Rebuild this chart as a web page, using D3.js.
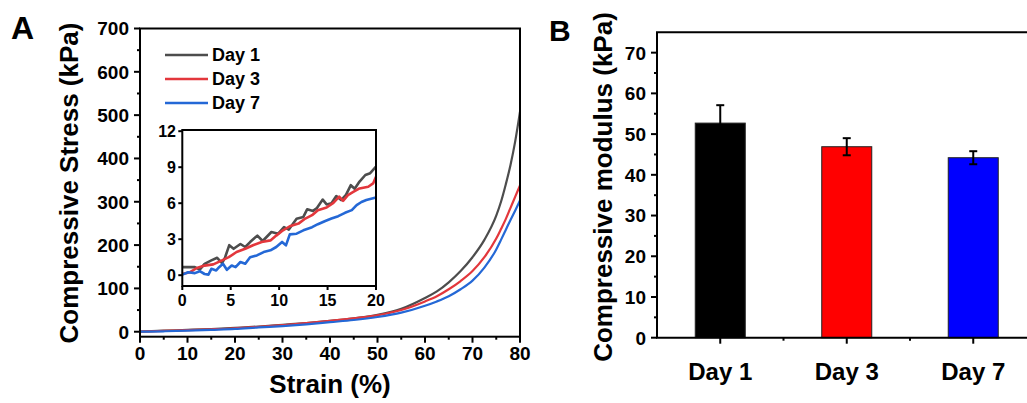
<!DOCTYPE html>
<html>
<head>
<meta charset="utf-8">
<script src="https://cdn.jsdelivr.net/npm/d3@7"></script>
<style>
    body { margin: 0; background: #fff; }
    text { font-family: 'Liberation Sans', Arial, sans-serif; font-weight: bold; fill: #000; }
</style>
</head>
<body>
<div id="chart"></div>
<script>
const chart_width = 1027;
const chart_height = 403;

// ---- panel A data: stress-strain curves ----
const strain = [0, 5, 10, 15, 20, 25, 30, 35, 40, 45, 50, 55, 60, 62.5, 65, 67.5, 70, 72.5, 75, 76, 77, 78, 79, 80];
const stress_day1 = [0, 2.4, 4.2, 6.3, 9, 12, 16, 20, 25, 31, 39, 53, 78, 93, 114, 140, 172, 212, 268, 300, 340, 385, 440, 508];
const stress_day3 = [0.2, 2, 3.6, 5.6, 8, 11.5, 15, 20, 25, 31, 38, 50, 70, 82, 98, 117, 140, 172, 215, 237, 260, 286, 312, 338];
const stress_day7 = [0.2, 1, 2.4, 4.4, 6.5, 10, 13, 17, 22, 27, 34, 44, 60, 70, 82, 98, 118, 148, 190, 212, 235, 258, 280, 303];

// inset (0-20 % strain)
const inset_day1_x = [0, 1.3, 1.8, 2.3, 3.0, 3.6, 4.1, 4.4, 4.85, 5.3, 6, 6.5, 7, 7.75, 8.3, 9.2, 9.9, 10.5, 11, 11.8, 12.5, 12.9, 13.5, 13.9, 14.5, 14.9, 15.4, 15.9, 16.4, 16.9, 17.4, 17.8, 18.3, 18.9, 19.4, 20];
const inset_day1_y = [0.67, 0.67, 0.47, 0.95, 1.23, 1.45, 1.0, 1.45, 2.5, 2.2, 2.6, 2.35, 2.76, 3.3, 2.85, 3.6, 3.46, 4.0, 3.8, 4.7, 4.86, 5.5, 5.36, 5.6, 6.3, 5.9, 6.0, 6.6, 6.26, 6.7, 7.5, 7.2, 7.8, 8.35, 8.5, 9.05];
const inset_day3_x = [0, 0.8, 1.5, 2.3, 3.2, 4.1, 4.8, 5.6, 6.5, 7.3, 8.2, 9.1, 9.7, 10.4, 11.1, 12, 12.7, 13.4, 14, 14.9, 15.6, 16.2, 16.6, 17.1, 17.7, 18.3, 19.2, 19.7, 20];
const inset_day3_y = [0.1, 0.25, 0.6, 0.8, 0.9, 1.23, 1.5, 1.93, 2.2, 2.5, 2.77, 2.9, 3.3, 3.74, 4.08, 4.3, 4.72, 5.0, 5.42, 5.64, 6.03, 6.54, 6.2, 6.68, 6.96, 7.23, 7.37, 7.65, 8.2];
const inset_day7_x = [0, 0.6, 1.3, 1.8, 2.3, 2.7, 3, 3.5, 3.8, 4.2, 4.6, 5.1, 5.5, 6, 6.5, 7, 7.7, 8.4, 9.1, 9.7, 10.3, 10.7, 11.1, 11.8, 12.5, 13.4, 14, 14.7, 15.4, 16.1, 16.8, 17.5, 18, 18.5, 19, 20];
const inset_day7_y = [0.05, 0.25, 0.17, 0.33, 0.1, 0.05, 0.53, 0.4, 0.67, 0.95, 0.45, 0.81, 0.67, 1.1, 0.95, 1.5, 1.65, 1.93, 2.07, 2.35, 2.77, 2.49, 3.4, 3.46, 3.74, 4.0, 4.25, 4.5, 4.72, 4.92, 5.2, 5.42, 5.84, 6.1, 6.26, 6.48];

const series_names = ['Day 1', 'Day 3', 'Day 7'];
const line_colors = ['#4d4d4d', '#e3373c', '#2468d6'];

// ---- panel B data: compressive modulus ----
const modulus = [52.7, 46.9, 44.2];
const modulus_err = [4.4, 2.1, 1.6];
const bar_colors = ['#000000', '#ff0000', '#0000ff'];

const y_ticks_a = [0, 100, 200, 300, 400, 500, 600, 700];
const x_ticks_a = [0, 10, 20, 30, 40, 50, 60, 70, 80];
const inset_x_ticks = [0, 5, 10, 15, 20];
const inset_y_ticks = [0, 3, 6, 9, 12];
const y_ticks_b = [0, 10, 20, 30, 40, 50, 60, 70];

//--------------------------------------------------------------------
const svg = d3.select('#chart')
    .append('svg')
    .attr('width', chart_width)
    .attr('height', chart_height);

// small helper: draw ticks + labels by hand so they match the Origin style
function draw_ticks(g, values, pos, opts) {
    values.forEach(v => {
        const p = pos(v);
        if (opts.orient === 'left') {
            g.append('line').attr('x1', opts.at - opts.len).attr('x2', opts.at)
                .attr('y1', p).attr('y2', p).attr('stroke', '#000').attr('stroke-width', 2);
        } else {
            g.append('line').attr('y1', opts.at).attr('y2', opts.at + opts.len)
                .attr('x1', p).attr('x2', p).attr('stroke', '#000').attr('stroke-width', 2);
        }
    });
}

//--------------------------------------------------------------------
// Panel A
const x_a = d3.scaleLinear().domain([0, 80]).range([140, 520]);
const y_a = d3.scaleLinear().domain([-11.5, 700]).range([336.7, 28.5]);

const g_a = svg.append('g');

const line_a = d3.line()
    .x(d => x_a(d[0]))
    .y(d => y_a(d[1]))
    .curve(d3.curveMonotoneX);

[stress_day1, stress_day3, stress_day7].forEach((arr, i) => {
    g_a.append('path')
        .datum(strain.map((s, j) => [s, arr[j]]))
        .attr('d', line_a)
        .attr('fill', 'none')
        .attr('stroke', line_colors[i])
        .attr('stroke-width', 2.2);
});

// frame
g_a.append('rect')
    .attr('x', x_a(0)).attr('y', y_a(700))
    .attr('width', x_a(80) - x_a(0))
    .attr('height', y_a(-11.5) - y_a(700))
    .attr('fill', 'none').attr('stroke', '#000').attr('stroke-width', 2);

// y axis
draw_ticks(g_a, y_ticks_a, y_a, { orient: 'left', at: x_a(0), len: 6 });
draw_ticks(g_a, d3.range(50, 700, 100), y_a, { orient: 'left', at: x_a(0), len: 3 });
g_a.selectAll('.ylab')
    .data(y_ticks_a)
    .enter()
    .append('text')
    .attr('x', 129)
    .attr('y', d => y_a(d))
    .attr('dy', '0.36em')
    .attr('text-anchor', 'end')
    .style('font-size', '19px')
    .text(d => d);

// x axis
draw_ticks(g_a, x_ticks_a, x_a, { orient: 'bottom', at: y_a(-11.5), len: 6 });
draw_ticks(g_a, d3.range(5, 80, 10), x_a, { orient: 'bottom', at: y_a(-11.5), len: 3 });
g_a.selectAll('.xlab')
    .data(x_ticks_a)
    .enter()
    .append('text')
    .attr('x', d => x_a(d))
    .attr('y', 360)
    .attr('text-anchor', 'middle')
    .style('font-size', '19px')
    .text(d => d);

g_a.append('text')
    .attr('x', 330).attr('y', 393)
    .attr('text-anchor', 'middle')
    .style('font-size', '26px')
    .text('Strain (%)');

g_a.append('text')
    .attr('transform', 'translate(78,183) rotate(-90)')
    .attr('text-anchor', 'middle')
    .style('font-size', '26px')
    .text('Compressive Stress (kPa)');

g_a.append('text')
    .attr('x', 11).attr('y', 39)
    .style('font-size', '32px')
    .text('A');

// legend
series_names.forEach((name, i) => {
    const ly = 55 + i * 24;
    g_a.append('line')
        .attr('x1', 165).attr('x2', 208)
        .attr('y1', ly).attr('y2', ly)
        .attr('stroke', line_colors[i]).attr('stroke-width', 2.5);
    g_a.append('text')
        .attr('x', 212).attr('y', ly)
        .attr('dy', '0.36em')
        .style('font-size', '18px')
        .text(name);
});

//--------------------------------------------------------------------
// Inset
const x_in = d3.scaleLinear().domain([0, 20]).range([182.3, 376]);
const y_in = d3.scaleLinear().domain([-0.9, 12.1]).range([286, 130]);

const g_in = svg.append('g');
g_in.append('rect')
    .attr('x', x_in(0)).attr('y', y_in(12.1))
    .attr('width', x_in(20) - x_in(0))
    .attr('height', y_in(-0.9) - y_in(12.1))
    .attr('fill', '#fff');

const line_in = d3.line()
    .x(d => x_in(d[0]))
    .y(d => y_in(d[1]));

[[inset_day1_x, inset_day1_y], [inset_day3_x, inset_day3_y], [inset_day7_x, inset_day7_y]].forEach((s, i) => {
    g_in.append('path')
        .datum(s[0].map((x, j) => [x, s[1][j]]))
        .attr('d', line_in)
        .attr('fill', 'none')
        .attr('stroke', line_colors[i])
        .attr('stroke-width', 2.6)
        .attr('stroke-linejoin', 'round');
});

g_in.append('rect')
    .attr('x', x_in(0)).attr('y', y_in(12.1))
    .attr('width', x_in(20) - x_in(0))
    .attr('height', y_in(-0.9) - y_in(12.1))
    .attr('fill', 'none').attr('stroke', '#000').attr('stroke-width', 2);

draw_ticks(g_in, inset_y_ticks, y_in, { orient: 'left', at: x_in(0), len: 4 });
draw_ticks(g_in, inset_x_ticks, x_in, { orient: 'bottom', at: y_in(-0.9), len: 4 });

g_in.selectAll('.iy')
    .data(inset_y_ticks)
    .enter()
    .append('text')
    .attr('x', 176)
    .attr('y', d => y_in(d))
    .attr('dy', '0.36em')
    .attr('text-anchor', 'end')
    .style('font-size', '16px')
    .text(d => d);

g_in.selectAll('.ix')
    .data(inset_x_ticks)
    .enter()
    .append('text')
    .attr('x', d => x_in(d))
    .attr('y', 306)
    .attr('text-anchor', 'middle')
    .style('font-size', '16px')
    .text(d => d);

//--------------------------------------------------------------------
// Panel B
const x_b = d3.scaleBand()
    .domain(series_names)
    .range([657, 657 + 3 * 126.5]);
const y_b = d3.scaleLinear().domain([0, 75]).range([337.7, 32.3]);
const bar_w = 50;

const g_b = svg.append('g');

g_b.selectAll('rect.bar')
    .data(modulus)
    .enter()
    .append('rect')
    .attr('class', 'bar')
    .attr('x', (d, i) => x_b(series_names[i]) + x_b.bandwidth() / 2 - bar_w / 2)
    .attr('y', d => y_b(d))
    .attr('width', bar_w)
    .attr('height', d => y_b(0) - y_b(d))
    .attr('fill', (d, i) => bar_colors[i])
    .attr('stroke', '#222')
    .attr('stroke-width', 1);

// error bars
modulus.forEach((m, i) => {
    const cx = x_b(series_names[i]) + x_b.bandwidth() / 2;
    g_b.append('line')
        .attr('x1', cx).attr('x2', cx)
        .attr('y1', y_b(m - modulus_err[i])).attr('y2', y_b(m + modulus_err[i]))
        .attr('stroke', '#000').attr('stroke-width', 2);
    [m - modulus_err[i], m + modulus_err[i]].forEach(v => {
        g_b.append('line')
            .attr('x1', cx - 4).attr('x2', cx + 4)
            .attr('y1', y_b(v)).attr('y2', y_b(v))
            .attr('stroke', '#000').attr('stroke-width', 2);
    });
});

// axes lines (left, bottom, top)
g_b.append('path')
    .attr('d', `M${chart_width},${y_b(75)}H${x_b.range()[0]}V${y_b(0)}H${chart_width}`)
    .attr('fill', 'none').attr('stroke', '#000').attr('stroke-width', 2);

draw_ticks(g_b, y_ticks_b, y_b, { orient: 'left', at: x_b.range()[0], len: 6 });
draw_ticks(g_b, d3.range(5, 75, 10), y_b, { orient: 'left', at: x_b.range()[0], len: 3 });
g_b.selectAll('.by')
    .data(y_ticks_b)
    .enter()
    .append('text')
    .attr('x', 646)
    .attr('y', d => y_b(d))
    .attr('dy', '0.36em')
    .attr('text-anchor', 'end')
    .style('font-size', '19px')
    .text(d => d);

draw_ticks(g_b, series_names, d => x_b(d) + x_b.bandwidth() / 2, { orient: 'bottom', at: y_b(0), len: 6 });
draw_ticks(g_b, series_names.slice(1), d => x_b(d), { orient: 'bottom', at: y_b(0), len: 3 });
g_b.selectAll('.bx')
    .data(series_names)
    .enter()
    .append('text')
    .attr('x', d => x_b(d) + x_b.bandwidth() / 2)
    .attr('y', 380)
    .attr('text-anchor', 'middle')
    .style('font-size', '24px')
    .text(d => d);

g_b.append('text')
    .attr('transform', 'translate(612,187) rotate(-90)')
    .attr('text-anchor', 'middle')
    .style('font-size', '26px')
    .text('Compressive modulus (kPa)');

g_b.append('text')
    .attr('x', 549).attr('y', 41)
    .style('font-size', '30px')
    .text('B');
</script>
</body>
</html>
